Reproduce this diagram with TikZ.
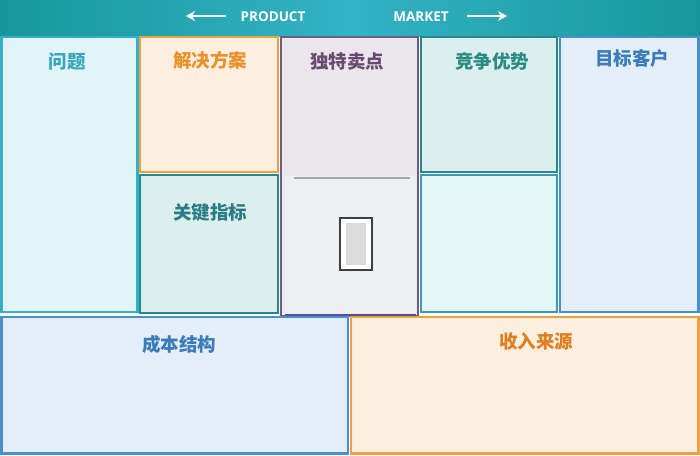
\documentclass[tikz,border=0pt]{standalone}
\usepackage{fontspec}
\newfontfamily\cjk{Noto Sans CJK SC}
\newfontfamily\latinsans{Open Sans}
\usetikzlibrary{arrows.meta}
\definecolor{barA}{HTML}{17979C}
\definecolor{barB}{HTML}{34B2C6}
\definecolor{cyanB}{HTML}{33AFC6}
\definecolor{cyanF}{HTML}{E3F4F8}
\definecolor{orB}{HTML}{F0A040}
\definecolor{orF}{HTML}{FDEFDF}
\definecolor{puB}{HTML}{6E5E80}
\definecolor{puF}{HTML}{EBE6EC}
\definecolor{tlB}{HTML}{23898F}
\definecolor{tlF}{HTML}{DCEFEE}
\definecolor{blB}{HTML}{4A8FCC}
\definecolor{blF}{HTML}{E3EEF8}
\definecolor{chB}{HTML}{3C9AB8}
\definecolor{chF}{HTML}{E3F6F8}
\definecolor{grF}{HTML}{EDEFF3}
\definecolor{tCyan}{HTML}{3AA6BE}
\definecolor{tOr}{HTML}{E8902A}
\definecolor{tPu}{HTML}{6A4A72}
\definecolor{tTl}{HTML}{2A8A84}
\definecolor{tBl}{HTML}{3A7CBA}
\definecolor{tTl2}{HTML}{2A7C86}
\definecolor{tOr2}{HTML}{E07E22}
\tikzset{
  cell/.style={draw, line width=2.5pt, rectangle, inner sep=0pt},
  title/.style={font=\cjk\bfseries\fontsize{18.5}{22}\selectfont, inner sep=0pt, anchor=center},
  toptext/.style={font=\latinsans\bfseries\fontsize{13.5}{16}\selectfont, text=white, inner sep=0pt},
  toparrow/.style={draw=white, line width=2pt, -{Stealth[length=9pt,width=10pt]}}
}
\begin{document}
\begin{tikzpicture}[x=1pt,y=-1pt]
\useasboundingbox (0,0) rectangle (700,455);
% top bar
\path[left color=barA, right color=barA, middle color=barB] (0,0) rectangle (700,36);
\node[toptext] (prod) at (273,17) {PRODUCT};
\node[toptext] (mark) at (421,17) {MARKET};
\coordinate (la1) at (226,16); \coordinate (la2) at (186,16);
\coordinate (ra1) at (467,16); \coordinate (ra2) at (507,16);
\draw[toparrow] (la1) -- (la2);
\draw[toparrow] (ra1) -- (ra2);
% cells
\path[cell, draw=cyanB, fill=cyanF] (1.5,37) rectangle (137.5,312) node[pos=0] (problem) {};
\path[cell, draw=orB, fill=orF] (140,37) rectangle (278,172) node[pos=0] (solution) {};
\path[cell, draw=puB, fill=puF] (281,37) rectangle (418,316) node[pos=0] (uvp) {};
\path[cell, draw=tlB, fill=tlF] (421,37) rectangle (557,172) node[pos=0] (unfair) {};
\path[cell, draw=blB, fill=blF] (560,37) rectangle (698.5,312) node[pos=0] (customer) {};
\path[cell, draw=tlB, fill=tlF] (140,175) rectangle (278,313) node[pos=0] (metrics) {};
\path[cell, draw=chB, fill=chF] (421,175) rectangle (557,312) node[pos=0] (channels) {};
% center placeholder
\path[fill=grF] (285,176) rectangle (416,314);
\draw[line width=2pt, draw=gray!70] (294,178) -- (410,178);
\draw[line width=2pt, draw=puB!80!blue] (285,314.5) -- (416,314.5);
\node[draw=black!75, line width=1.4pt, fill=white, minimum width=32pt, minimum height=52pt, inner sep=0pt] (ph) at (356,244) {};
\node[fill=gray!28, minimum width=20pt, minimum height=42pt, inner sep=0pt] (phin) at (356,244) {};
% bottom
\path[cell, draw=blB, fill=blF] (1.5,317) rectangle (348,453.5) node[pos=0] (cost) {};
\path[cell, draw=orB, fill=orF] (351,317) rectangle (698.5,453.5) node[pos=0] (revenue) {};
% titles
\node[title, text=tCyan] (tproblem) at (67,62) {问题};
\node[title, text=tOr] (tsolution) at (210,60) {解决方案};
\node[title, text=tPu] (tuvp) at (347,62) {独特卖点};
\node[title, text=tTl] (tunfair) at (492,61) {竞争优势};
\node[title, text=tBl] (tcustomer) at (632,58) {目标客户};
\node[title, text=tTl2] (tmetrics) at (210,213) {关键指标};
\node[title, text=tBl] (tcost) at (179,344) {成本结构};
\node[title, text=tOr2] (trevenue) at (536,341) {收入来源};
\end{tikzpicture}
\end{document}
